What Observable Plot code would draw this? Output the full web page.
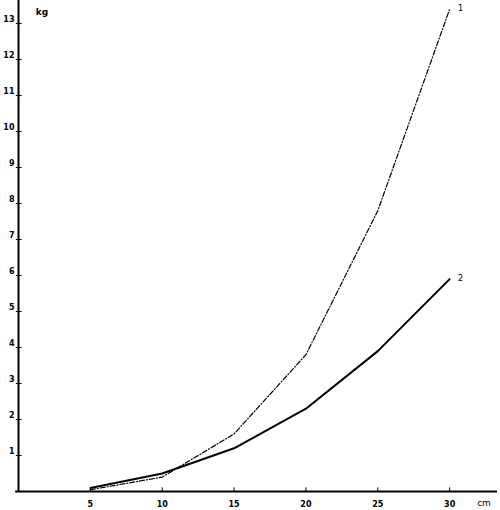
<!DOCTYPE html>
<html>
<head>
<meta charset="utf-8">
<script src="https://cdn.jsdelivr.net/npm/d3@7"></script>
<script src="https://cdn.jsdelivr.net/npm/@observablehq/plot@0.6"></script>
<style>
  html, body { margin: 0; padding: 0; background: #fff; }
</style>
</head>
<body>
<div id="chart"></div>
<script>
const lengths = [5, 10, 15, 20, 25, 30];
const series1 = [0.05, 0.4, 1.6, 3.8, 7.8, 13.4];
const series2 = [0.1, 0.5, 1.2, 2.3, 3.9, 5.9];
const xTicks = [5, 10, 15, 20, 25, 30];
const yTicks = [1, 2, 3, 4, 5, 6, 7, 8, 9, 10, 11, 12, 13];
const seriesLabels = ["1", "2"];

const d1 = lengths.map((x, i) => ({x, y: series1[i]}));
const d2 = lengths.map((x, i) => ({x, y: series2[i]}));
const ends = [
  {x: lengths[5], y: series1[5], label: seriesLabels[0]},
  {x: lengths[5], y: series2[5], label: seriesLabels[1]}
];

const font = "DejaVu Sans";
const chart = Plot.plot({
  width: 500,
  height: 510,
  marginLeft: 18,
  marginRight: 3,
  marginTop: 0,
  marginBottom: 19,
  x: {domain: [0, 33.33], axis: null},
  y: {domain: [0, 13.64], axis: null},
  style: {fontFamily: font, background: "#fff"},
  marks: [
    Plot.ruleX([0], {stroke: "#000", strokeWidth: 2}),
    Plot.ruleY([0], {x1: -0.2, x2: 33.33, stroke: "#000", strokeWidth: 2}),
    Plot.ruleY(yTicks, {y: d => d, x1: -0.15, x2: 0.25, stroke: "#000", strokeWidth: 1}),
    Plot.ruleX(xTicks, {x: d => d, y1: 0, y2: 0.1, stroke: "#000", strokeWidth: 1}),
    Plot.text(yTicks, {x: 0, y: d => d, text: d => String(d), dx: -4, dy: -4, textAnchor: "end", fontSize: 8, fontWeight: "bold", fill: "#000"}),
    Plot.text(xTicks, {x: d => d, y: 0, text: d => String(d), dy: 13, textAnchor: "middle", fontSize: 8, fontWeight: "bold", fill: "#000"}),
    Plot.line(d1, {x: "x", y: "y", stroke: "#000", strokeWidth: 1.2, strokeDasharray: "5,2,1,2"}),
    Plot.line(d2, {x: "x", y: "y", stroke: "#000", strokeWidth: 2}),
    Plot.text(ends, {x: "x", y: "y", text: "label", dx: 11, dy: -1, fontSize: 8, fill: "#000"})
  ]
});

const svg = d3.select(chart);
svg.append("text").attr("x", 42).attr("y", 15).attr("text-anchor", "middle")
  .attr("font-family", font).attr("font-size", 9).attr("font-weight", "bold").text("kg");
svg.append("text").attr("x", 484).attr("y", 506).attr("text-anchor", "middle")
  .attr("font-family", font).attr("font-size", 9).text("cm");

document.getElementById("chart").appendChild(chart);
</script>
</body>
</html>
